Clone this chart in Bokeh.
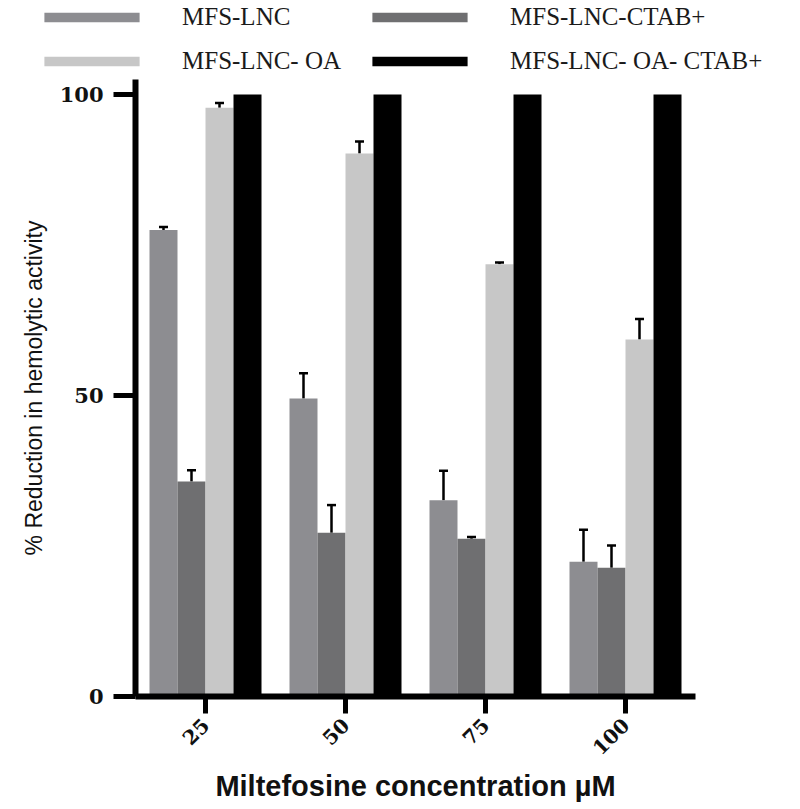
from math import pi
from bokeh.plotting import figure
from bokeh.layouts import column, row
from bokeh.models import (ColumnDataSource, FactorRange, Range1d, FixedTicker,
                          Legend, LegendItem, Whisker, TeeHead)
from bokeh.transform import dodge
from bokeh.embed import file_html
from bokeh.resources import INLINE

# ---- data ----
conc = ["25", "50", "75", "100"]
series_names = ["MFS-LNC", "MFS-LNC-CTAB+", "MFS-LNC- OA", "MFS-LNC- OA- CTAB+"]
mfs_lnc = [77.5, 49.5, 32.6, 22.4]
mfs_lnc_err = [0.5, 4.2, 4.9, 5.3]
mfs_lnc_ctab = [35.7, 27.2, 26.2, 21.4]
mfs_lnc_ctab_err = [1.9, 4.6, 0.3, 3.7]
mfs_lnc_oa = [97.8, 90.2, 71.8, 59.3]
mfs_lnc_oa_err = [0.8, 2.0, 0.3, 3.4]
mfs_lnc_oa_ctab = [100, 100, 100, 100]
mfs_lnc_oa_ctab_err = [0, 0, 0, 0]

values = [mfs_lnc, mfs_lnc_ctab, mfs_lnc_oa, mfs_lnc_oa_ctab]
errors = [mfs_lnc_err, mfs_lnc_ctab_err, mfs_lnc_oa_err, mfs_lnc_oa_ctab_err]
colors = ["#8d8d91", "#6f6f71", "#c7c7c7", "#000000"]
offsets = [-0.3, -0.1, 0.1, 0.3]

# ---- main chart ----
p = figure(width=790, height=726, output_backend="svg", toolbar_location=None,
           x_range=FactorRange(factors=conc, range_padding=0.0),
           y_range=Range1d(0, 102.5),
           min_border_left=135, min_border_right=95,
           min_border_top=0, min_border_bottom=109)
p.outline_line_color = None
p.xgrid.grid_line_color = None
p.ygrid.grid_line_color = None
p.background_fill_color = "white"
p.border_fill_color = "white"

# ---- legend strip (its own small plot above the chart) ----
leg = figure(width=790, height=79, output_backend="svg", toolbar_location=None,
             x_range=FactorRange(factors=conc), y_range=Range1d(1000, 1001),
             x_axis_type=None, y_axis_type=None, min_border=0)
leg.outline_line_color = None
leg.xgrid.grid_line_color = None
leg.ygrid.grid_line_color = None

leg_renderers = []
for vals, errs, col, off in zip(values, errors, colors, offsets):
    src = ColumnDataSource(dict(conc=conc, val=vals,
                                hi=[v + e for v, e in zip(vals, errs)]))
    xs = dodge("conc", off, range=p.x_range)
    p.vbar(x=xs, top="val", width=0.2, source=src,
           fill_color=col, line_color=None)
    if any(e > 0 for e in errs):
        w = Whisker(base=xs, lower="val", upper="hi", source=src,
                    dimension="height", line_color="black", line_width=2.5,
                    lower_head=None,
                    upper_head=TeeHead(size=9, line_width=2.5, line_color="black"))
        p.add_layout(w)
    # same series in the legend strip (outside its visible y-range) for the swatch
    lr = leg.vbar(x=dodge("conc", off, range=leg.x_range), top="val", width=0.2,
                  source=src, fill_color=col, line_color=None)
    leg_renderers.append(lr)

tick_font = "DejaVu Serif"
p.yaxis.ticker = FixedTicker(ticks=[0, 50, 100])
p.yaxis.minor_tick_line_color = None
p.yaxis.major_tick_out = 22
p.yaxis.major_tick_in = 0
p.yaxis.major_tick_line_width = 5
p.yaxis.axis_line_width = 6
p.yaxis.major_label_text_font = tick_font
p.yaxis.major_label_text_font_style = "bold"
p.yaxis.major_label_text_font_size = "21px"
p.yaxis.major_label_text_color = "#111111"
p.yaxis.major_label_standoff = 10
p.yaxis.axis_label = "% Reduction in hemolytic activity"
p.yaxis.axis_label_text_font = "Liberation Sans"
p.yaxis.axis_label_text_font_style = "normal"
p.yaxis.axis_label_text_font_size = "23px"
p.yaxis.axis_label_text_color = "#111111"
p.yaxis.axis_label_standoff = 10

p.xaxis.major_tick_out = 17
p.xaxis.major_tick_in = 0
p.xaxis.major_tick_line_width = 5
p.xaxis.axis_line_width = 6
p.xaxis.major_label_orientation = pi / 4
p.xaxis.major_label_text_font = tick_font
p.xaxis.major_label_text_font_style = "bold"
p.xaxis.major_label_text_font_size = "20px"
p.xaxis.major_label_text_color = "#111111"
p.xaxis.major_label_standoff = 8
p.xaxis.axis_label = "Miltefosine concentration µM"
p.xaxis.axis_label_text_font = "Liberation Sans"
p.xaxis.axis_label_text_font_style = "bold"
p.xaxis.axis_label_text_font_size = "29px"
p.xaxis.axis_label_text_color = "#111111"
p.xaxis.axis_label_standoff = 5

items = [LegendItem(label=n, renderers=[r]) for n, r in zip(series_names, leg_renderers)]
legend = Legend(items=items, orientation="horizontal", ncols=2,
                location=(32, 3),
                glyph_width=119, glyph_height=12, label_standoff=31,
                label_height=30, label_width=164, spacing=14, padding=0, margin=0,
                border_line_color=None, background_fill_alpha=0,
                label_text_font="Liberation Serif", label_text_font_size="25px",
                label_text_color="#1a1a1a")
leg.add_layout(legend)

layout = column(row(leg), p, spacing=0)
open("out.html", "w").write(file_html(layout, INLINE))
